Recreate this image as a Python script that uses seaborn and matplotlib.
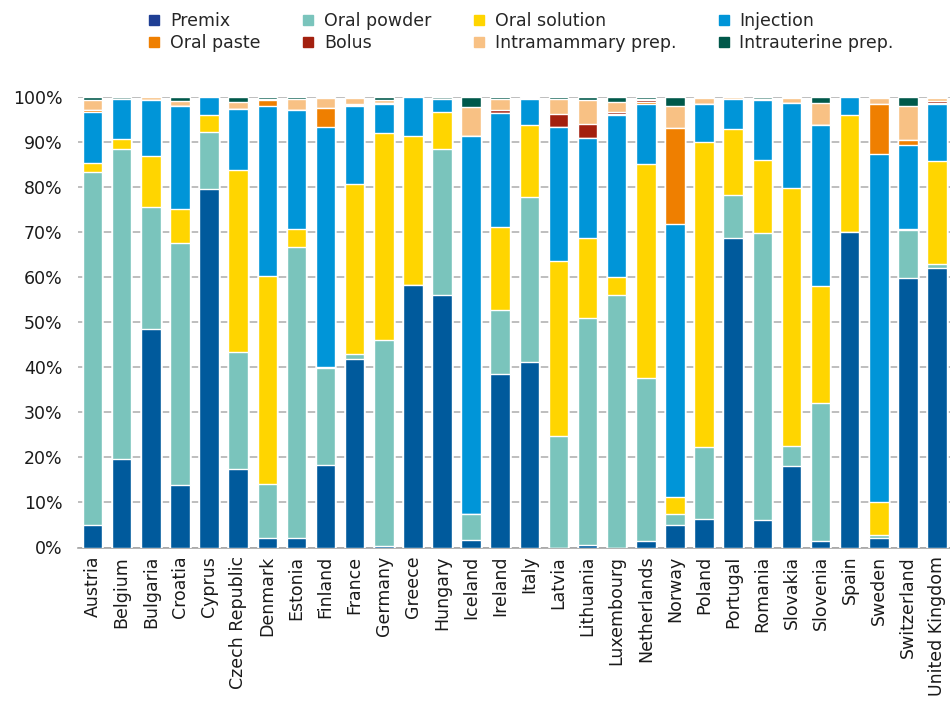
import pandas as pd
import matplotlib
matplotlib.use('Agg')
import matplotlib.pyplot as plt
from matplotlib.lines import Line2D
import seaborn as sns

# --- data (share of sales by pharmaceutical form, %) ---
countries = ['Austria', 'Belgium', 'Bulgaria', 'Croatia', 'Cyprus', 'Czech Republic',
             'Denmark', 'Estonia', 'Finland', 'France', 'Germany', 'Greece', 'Hungary',
             'Iceland', 'Ireland', 'Italy', 'Latvia', 'Lithuania', 'Luxembourg',
             'Netherlands', 'Norway', 'Poland', 'Portugal', 'Romania', 'Slovakia',
             'Slovenia', 'Spain', 'Sweden', 'Switzerland', 'United Kingdom']

premix = [5.0, 19.6, 48.5, 13.9, 79.6, 17.4, 2.1, 2.0, 18.3, 41.9, 0.3, 58.3, 56.1, 1.6, 38.5,
          41.2, 0.0, 0.5, 0.0, 1.4, 5.0, 6.3, 68.7, 6.1, 18.1, 1.4, 70.1, 2.1, 59.9, 62.1]
oral_powder = [78.4, 68.9, 27.1, 53.7, 12.7, 26.0, 12.0, 64.7, 21.5, 1.1, 45.8, 0.0, 32.5, 5.8, 14.2,
               36.7, 24.7, 50.5, 56.1, 36.2, 2.4, 16.0, 9.7, 63.8, 4.4, 30.7, 0.0, 0.6, 10.6, 0.9]
oral_solution = [2.0, 2.2, 11.4, 7.6, 3.8, 40.5, 46.2, 4.0, 0.3, 37.7, 46.0, 33.1, 8.1, 0.0, 18.5,
                 16.0, 38.9, 17.7, 4.0, 47.6, 3.8, 67.8, 14.6, 16.2, 57.4, 26.0, 26.0, 7.4, 0.2, 22.9]
injection = [11.3, 8.9, 12.4, 22.9, 3.9, 13.5, 37.8, 26.5, 53.4, 17.4, 6.4, 8.6, 2.9, 83.9, 25.4,
             5.7, 29.8, 22.3, 36.0, 13.3, 60.7, 8.4, 6.6, 13.3, 18.8, 35.8, 3.9, 77.3, 18.7, 12.6]
oral_paste = [0.5, 0.0, 0.0, 0.0, 0.0, 0.0, 1.3, 0.0, 4.2, 0.2, 0.3, 0.0, 0.0, 0.2, 0.0,
              0.2, 0.0, 0.0, 0.2, 0.5, 21.3, 0.0, 0.0, 0.2, 0.0, 0.0, 0.0, 11.1, 1.1, 0.2]
bolus = [0.0, 0.0, 0.0, 0.0, 0.0, 0.0, 0.0, 0.0, 0.0, 0.2, 0.0, 0.0, 0.0, 0.0, 0.6,
         0.0, 2.9, 3.1, 0.4, 0.3, 0.0, 0.0, 0.0, 0.0, 0.0, 0.0, 0.0, 0.0, 0.0, 0.5]
intramammary = [2.2, 0.1, 0.6, 1.1, 0.0, 1.6, 0.2, 2.4, 2.1, 1.3, 0.5, 0.0, 0.0, 6.4, 2.4,
                0.0, 3.3, 5.2, 2.3, 0.3, 4.9, 1.3, 0.4, 0.0, 1.1, 4.8, 0.0, 1.3, 7.6, 0.6]
intrauterine = [0.6, 0.3, 0.0, 0.8, 0.0, 1.0, 0.4, 0.4, 0.2, 0.2, 0.7, 0.0, 0.4, 2.1, 0.4,
                0.2, 0.4, 0.7, 1.0, 0.4, 1.9, 0.2, 0.0, 0.4, 0.2, 1.3, 0.0, 0.2, 1.9, 0.2]

labels = ['Premix', 'Oral powder', 'Oral solution', 'Injection',
          'Oral paste', 'Bolus', 'Intramammary prep.', 'Intrauterine prep.']
colors = ['#005a9c', '#7ac4bc', '#ffd500', '#0095d8',
          '#ef7f00', '#a3200f', '#f8c184', '#00584a']

df = pd.DataFrame({
    'Premix': premix, 'Oral powder': oral_powder, 'Oral solution': oral_solution,
    'Injection': injection, 'Oral paste': oral_paste, 'Bolus': bolus,
    'Intramammary prep.': intramammary, 'Intrauterine prep.': intrauterine,
}, index=countries)
cum = df.cumsum(axis=1)

sns.set_style('white')
plt.rcParams['font.family'] = ['DejaVu Sans']

fig = plt.figure(figsize=(9.5, 7.01), dpi=100)
ax = fig.add_axes([78 / 950, 153.5 / 701, 873.6 / 950, 450.2 / 701])

# stacked bars: draw cumulative totals from the top layer down
for lab, col in reversed(list(zip(labels, colors))):
    sns.barplot(x=countries, y=cum[lab].values, color=col, saturation=1,
                width=0.67, errorbar=None, ax=ax, zorder=3)

ax.set_xlim(-0.5, len(countries) - 0.5)
ax.set_ylim(0, 100)
ax.set_yticks(range(0, 101, 10))
ax.set_yticklabels([f'{v}%' for v in range(0, 101, 10)], fontsize=12.5, color='#1a1a1a')
ax.yaxis.grid(True, color='#b3b3b3', lw=1.2, zorder=0)
ax.set_axisbelow(True)
ax.tick_params(axis='y', length=0, pad=11)
ax.tick_params(axis='x', length=0, pad=6, labelsize=12.5, labelcolor='#1a1a1a')
plt.setp(ax.get_xticklabels(), rotation=90)

# small boundary ticks between categories
ax.set_xticks([i - 0.5 for i in range(len(countries) + 1)], minor=True)
ax.tick_params(axis='x', which='minor', direction='in', length=8.5, width=1, color='#cccccc')

for s in ['top', 'right', 'left']:
    ax.spines[s].set_visible(False)
ax.spines['bottom'].set_color('#a6a6a6')
ax.spines['bottom'].set_linewidth(1.2)
ax.set_xlabel('')
ax.set_ylabel('')

# legend (column-wise order gives two rows of four)
order = [0, 4, 1, 5, 2, 6, 3, 7]
leg_colors = list(colors)
leg_colors[0] = '#1f3f94'
handles = [Line2D([], [], marker='s', ls='none', markersize=7, color=leg_colors[i]) for i in order]
fig.legend(handles, [labels[i] for i in order], ncol=4, loc='upper center',
           bbox_to_anchor=(0.548, 1.005), frameon=False, fontsize=12.5,
           handlelength=0.8, handletextpad=0.5, columnspacing=2.35, labelspacing=0.25)

fig.savefig('out.png', dpi=100)
